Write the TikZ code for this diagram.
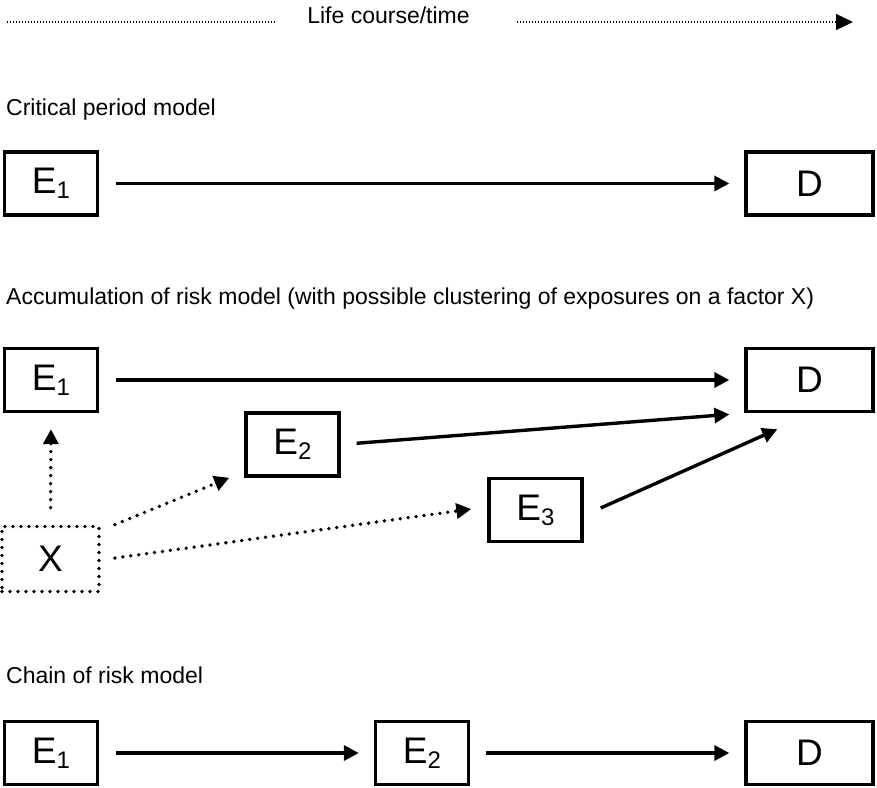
\documentclass[tikz,border=0pt]{standalone}
\usepackage{fontspec}
\setmainfont{Liberation Sans}
\usetikzlibrary{arrows.meta,calc}
\newcommand\Esub[1]{E\raisebox{-5pt}{\fontsize{24}{24}\selectfont #1}}
\tikzset{
  ebox/.style={draw, line width=3.4pt, minimum width=93pt, minimum height=63pt, inner sep=0pt, font=\fontsize{37}{40}\selectfont},
  dbox/.style={ebox, minimum width=127pt},
  xbox/.style={draw, line width=3.8pt, dash pattern=on 0pt off 8pt, line cap=round, minimum width=97pt, minimum height=65pt, inner sep=0pt, font=\fontsize{37}{40}\selectfont},
  title/.style={anchor=base west, inner sep=0pt, font=\fontsize{23}{27}\selectfont},
  solidarrow/.style={line width=3.4pt, -{Triangle[length=15pt,width=15pt]}},
  dotarrow/.style={line width=3.8pt, dash pattern=on 0pt off 8pt, line cap=round, -{Triangle[length=15pt,width=15pt]}},
  timeline/.style={line width=1.3pt, dash pattern=on 1pt off 2pt},
}
\begin{document}
\begin{tikzpicture}[x=1pt,y=-1pt]
\useasboundingbox (0,0) rectangle (877,787);
% top time line
\node[anchor=base, inner sep=0pt, font=\fontsize{23}{27}\selectfont] (life) at (388.5,23) {Life course/time};
\coordinate (l1) at (7,22);
\coordinate (l2) at (275,22);
\coordinate (r1) at (517,22);
\coordinate (r2) at (853,22);
\draw[timeline] (l1) -- (l2);
\draw[timeline, -{Triangle[length=17pt,width=16pt]}] (r1) -- (r2);

% titles
\node[title] (t1) at (6,115.5) {Critical period model};
\node[title] (t2) at (6,304.5) {Accumulation of risk model (with possible clustering of exposures on a factor X)};
\node[title] (t3) at (6,683) {Chain of risk model};

% critical period
\node[ebox] (c1) at (51,183.5) {\Esub{1}};
\node[dbox] (cD) at (809.5,183.5) {D};
\draw[solidarrow, shorten <=17pt, shorten >=15pt] (c1.east) -- (cD.west);

% accumulation
\node[ebox] (a1) at (51,380) {\Esub{1}};
\node[dbox] (aD) at (809.5,380) {D};
\node[ebox] (a2) at (292.5,444.5) {\Esub{2}};
\node[ebox] (a3) at (535.5,510) {\Esub{3}};
\node[xbox] (X) at (50.5,559) {X};
\draw[solidarrow, shorten <=17pt, shorten >=15pt] (a1.east) -- (aD.west);
\draw[solidarrow, shorten <=16pt, shorten >=15pt] (a2.east) -- (aD.south west);
\draw[solidarrow] ($(a3.east)+(17,-2)$) -- ($(aD.south west)+(33,16)$);
\draw[dotarrow, shorten <=17pt, shorten >=16pt] (X.north) -- (a1.south);
\draw[dotarrow] ($(X.north east)+(14,0)$) -- ($(a2.south west)+(-15,0)$);
\draw[dotarrow] ($(X.east)+(14,-1)$) -- ($(a3.west)+(-16,-1)$);

% chain of risk
\node[ebox] (h1) at (51,753) {\Esub{1}};
\node[ebox] (h2) at (422,753) {\Esub{2}};
\node[dbox] (hD) at (809.5,753) {D};
\draw[solidarrow, shorten <=17pt, shorten >=15pt] (h1.east) -- (h2.west);
\draw[solidarrow, shorten <=16pt, shorten >=15pt] (h2.east) -- (hD.west);
\end{tikzpicture}
\end{document}
